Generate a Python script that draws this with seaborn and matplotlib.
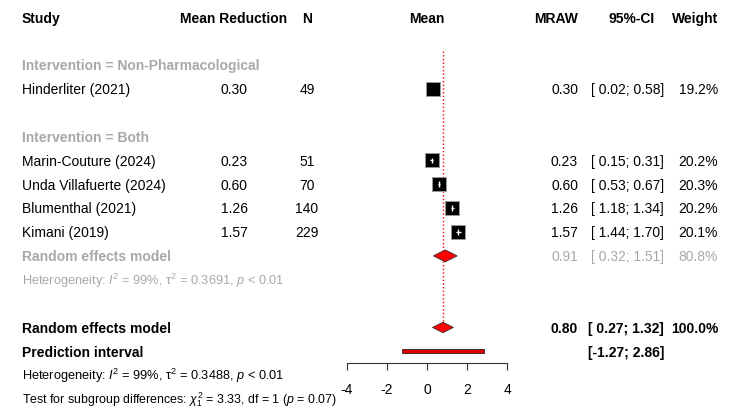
import numpy as np
import pandas as pd
import seaborn as sns
import matplotlib.pyplot as plt
from matplotlib import transforms

# study level data
studies = ["Hinderliter (2021)", "Marin-Couture (2024)", "Unda Villafuerte (2024)",
           "Blumenthal (2021)", "Kimani (2019)"]
groups = ["Non-Pharmacological", "Both", "Both", "Both", "Both"]
mean_reduction = [0.30, 0.23, 0.60, 1.26, 1.57]
n_sizes = [49, 51, 70, 140, 229]
ci_low = [0.02, 0.15, 0.53, 1.18, 1.44]
ci_high = [0.58, 0.31, 0.67, 1.34, 1.70]
weights = [19.2, 20.2, 20.3, 20.2, 20.1]

# subgroup "Both" random effects
sub_mean, sub_low, sub_high, sub_weight = 0.91, 0.32, 1.51, 80.8
sub_het = r"Heterogeneity: $\mathit{I}^2$ = 99%, $\mathrm{τ}^2$ = 0.3691, $\mathit{p}$ < 0.01"

# overall random effects
overall_mean, overall_low, overall_high = 0.80, 0.27, 1.32
pred_low, pred_high = -1.27, 2.86
overall_het = r"Heterogeneity: $\mathit{I}^2$ = 99%, $\mathrm{τ}^2$ = 0.3488, $\mathit{p}$ < 0.01"
subgroup_test = r"Test for subgroup differences: $\chi^2_1$ = 3.33, df = 1 ($\mathit{p}$ = 0.07)"

x_ticks = [-4, -2, 0, 2, 4]

df = pd.DataFrame({"study": studies, "group": groups, "mean": mean_reduction,
                   "n": n_sizes, "lo": ci_low, "hi": ci_high, "w": weights})

# row layout
rows = []
group_rows = {}
r = 2
for g in dict.fromkeys(groups):
    group_rows[g] = r
    r += 1
    for _ in df[df.group == g].index:
        rows.append(r)
        r += 1
    if (df.group == g).sum() > 1:
        sub_row = r
        r += 2
    r += 1
df["row"] = rows
overall_row = r
pred_row = r + 1

sns.set_theme(style="white")
plt.rcParams['font.family'] = ['Liberation Sans', 'DejaVu Sans']
plt.rcParams['mathtext.fontset'] = 'custom'
plt.rcParams['mathtext.rm'] = 'Liberation Sans'
plt.rcParams['mathtext.it'] = 'Liberation Sans:italic'
plt.rcParams['mathtext.bf'] = 'Liberation Sans:bold'

GRAY = "#a8a8a8"
fig = plt.figure(figsize=(7.5, 4.2), dpi=100)
ax = fig.add_axes([347 / 750, 57 / 420, 160 / 750, 363 / 420])
ax.set_xlim(-4, 4)
ax.set_ylim(14.49, -0.725)

trans = transforms.blended_transform_factory(fig.transFigure, ax.transData)


def put(px, row, s, ha="left", color="black", bold=False, size=10):
    ax.text(px / 750, row + 0.22 * size / 10, s, transform=trans, ha=ha, va="baseline",
            color=color, fontsize=size, fontweight="bold" if bold else "normal",
            clip_on=False)


# headers
put(22, 0, "Study", bold=True)
put(234, 0, "Mean Reduction", ha="center", bold=True)
put(307, 0, "N", ha="center", bold=True)
put(427, 0, "Mean", ha="center", bold=True)
put(578, 0, "MRAW", ha="right", bold=True)
put(655, 0, "95%-CI", ha="right", bold=True)
put(718, 0, "Weight", ha="right", bold=True)

for g, gr in group_rows.items():
    put(22, gr, "Intervention = " + g, color=GRAY, bold=True)

for _, d in df.iterrows():
    put(22, d.row, d.study)
    put(234, d.row, f"{d['mean']:.2f}", ha="center")
    put(307, d.row, f"{d.n}", ha="center")
    put(578, d.row, f"{d['mean']:.2f}", ha="right")
    put(664, d.row, f"[{d.lo:5.2f}; {d.hi:.2f}]", ha="right")
    put(718, d.row, f"{d.w:.1f}%", ha="right")

# subgroup summary
put(22, sub_row, "Random effects model", color=GRAY, bold=True)
put(22, sub_row + 1, sub_het, color=GRAY, size=9.2)
put(578, sub_row, f"{sub_mean:.2f}", ha="right", color=GRAY)
put(664, sub_row, f"[{sub_low:5.2f}; {sub_high:.2f}]", ha="right", color=GRAY)
put(718, sub_row, f"{sub_weight:.1f}%", ha="right", color=GRAY)

# overall summary
put(22, overall_row, "Random effects model", bold=True)
put(578, overall_row, f"{overall_mean:.2f}", ha="right", bold=True)
put(664, overall_row, f"[{overall_low:5.2f}; {overall_high:.2f}]", ha="right", bold=True)
put(718, overall_row, "100.0%", ha="right", bold=True)
put(22, pred_row, "Prediction interval", bold=True)
put(664, pred_row, f"[{pred_low:.2f}; {pred_high:.2f}]", ha="right", bold=True)
put(22, pred_row + 1, overall_het, size=9.2)
put(22, pred_row + 2, subgroup_test, size=8.9)

# reference line at overall mean
ax.vlines(overall_mean, 1.4, overall_row, color="red", linestyle=":", lw=1, zorder=1)

# study squares
sns.scatterplot(data=df, x="mean", y="row", marker="s", s=df.w * 5, color="black",
                edgecolor="#999999", linewidth=0.7, legend=False, ax=ax, zorder=3)
narrow = df[(df.hi - df.lo) < 0.3]
ax.hlines(narrow.row, narrow.lo, narrow.hi, color="white", lw=1, zorder=4)
ax.vlines(narrow["mean"], narrow.row - 0.12, narrow.row + 0.12, color="white", lw=1, zorder=4)

# diamonds
for m, lo, hi, rr, h in [(sub_mean, sub_low, sub_high, sub_row, 0.25),
                         (overall_mean, overall_low, overall_high, overall_row, 0.22)]:
    ax.fill([lo, m, hi, m], [rr, rr - h, rr, rr + h], color="red",
            edgecolor="#333333", lw=0.6, zorder=3)

# prediction interval
ax.barh(pred_row, pred_high - pred_low, left=pred_low, height=0.18, color="#e00000",
        edgecolor="#222222", lw=0.6, zorder=3)

# axis
for s in ["top", "left", "right"]:
    ax.spines[s].set_visible(False)
ax.spines["bottom"].set_color("#333333")
ax.spines["bottom"].set_linewidth(0.8)
ax.spines["bottom"].set_bounds(-4, 4)
ax.set_xticks(x_ticks)
ax.set_xticklabels([str(t) for t in x_ticks])
ax.set_yticks([])
ax.tick_params(axis="x", bottom=True, length=5, width=0.8, color="#333333",
               pad=9.5, labelsize=10, labelcolor="black")
ax.set_xlabel("")
ax.set_ylabel("")
ax.patch.set_alpha(0)

fig.savefig("out.png", dpi=100)
